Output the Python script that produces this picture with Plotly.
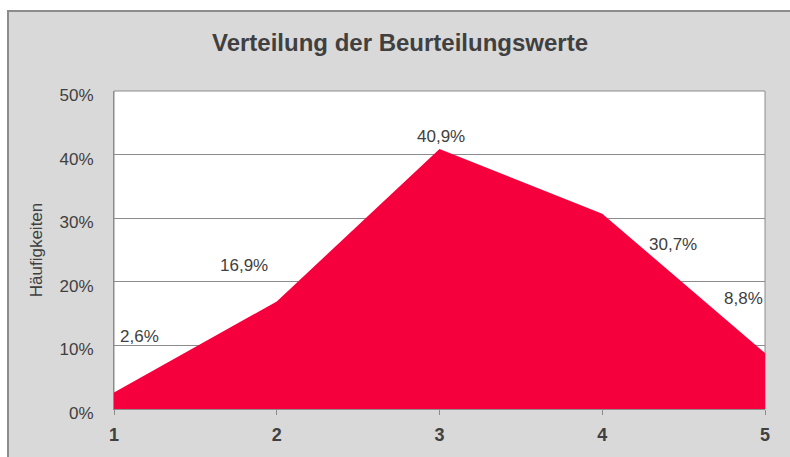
import plotly.graph_objects as go

grades = [1, 2, 3, 4, 5]
shares = [0.026, 0.169, 0.409, 0.307, 0.088]
labels = ["2,6%", "16,9%", "40,9%", "30,7%", "8,8%"]
label_dx = [25, -33, 1, 71, -22]
label_dy = [56, 36, 12, -31, 55]
yticks = [0, 0.1, 0.2, 0.3, 0.4, 0.5]
yticktext = ["0%", "10%", "20%", "30%", "40%", "50%"]

W, H = 790, 457
L, R, T, B = 114, 25, 91, 44
FONT = "Liberation Sans, Arial, sans-serif"
TXT = "#404040"

fig = go.Figure()
fig.add_trace(go.Scatter(
    x=grades, y=shares, mode="lines", fill="tozeroy",
    line=dict(color="#F5003D", width=0), fillcolor="#F5003D",
    hoverinfo="skip", showlegend=False,
))

for x, y, t, dx, dy in zip(grades, shares, labels, label_dx, label_dy):
    fig.add_annotation(x=x, y=y, text=t, showarrow=False, xshift=dx, yshift=dy,
                       font=dict(family=FONT, size=17, color=TXT))

def px_x(p):
    return (p - L) / (W - L - R)

def px_y(p):
    return (H - B - p) / (H - T - B)

# outer chart frame
fig.add_shape(type="rect", xref="paper", yref="paper", layer="below",
              x0=px_x(8), x1=px_x(800), y0=px_y(470), y1=px_y(10),
              fillcolor="#D9D9D9", line=dict(color="#8C8C8C", width=2))
# plot area background
fig.add_shape(type="rect", xref="paper", yref="paper", layer="below",
              x0=0, x1=1, y0=0, y1=1, fillcolor="white",
              line=dict(color="#8C8C8C", width=1))

fig.update_layout(
    width=W, height=H,
    margin=dict(l=L, r=R, t=T, b=B),
    paper_bgcolor="white", plot_bgcolor="white",
    title=dict(text="<b>Verteilung der Beurteilungswerte</b>", x=400 / W, xref="container",
               xanchor="center", y=1 - 43 / H, yanchor="middle",
               font=dict(family=FONT, size=24, color=TXT)),
    xaxis=dict(range=[1, 5], tickvals=grades, ticktext=[f"<b>{g}</b>" for g in grades],
               showgrid=False, zeroline=False, showline=True, linecolor="#8C8C8C",
               linewidth=1, ticks="outside", ticklen=5, tickcolor="#8C8C8C",
               ticklabelstandoff=4,
               tickfont=dict(family=FONT, size=18, color=TXT)),
    yaxis=dict(range=[0, 0.5], tickvals=yticks, ticktext=yticktext,
               showgrid=True, gridcolor="#8C8C8C", gridwidth=1, zeroline=False,
               showline=True, linecolor="#8C8C8C", ticks="", ticklabelstandoff=16,
               ticklabelshift=4,
               tickfont=dict(family=FONT, size=17, color=TXT),
               title=dict(text="Häufigkeiten", standoff=12,
                          font=dict(family=FONT, size=17, color=TXT))),
)

fig.write_html("out.html", config={"displayModeBar": False},
               post_script="document.body.style.margin='0';document.body.style.overflow='hidden';")
